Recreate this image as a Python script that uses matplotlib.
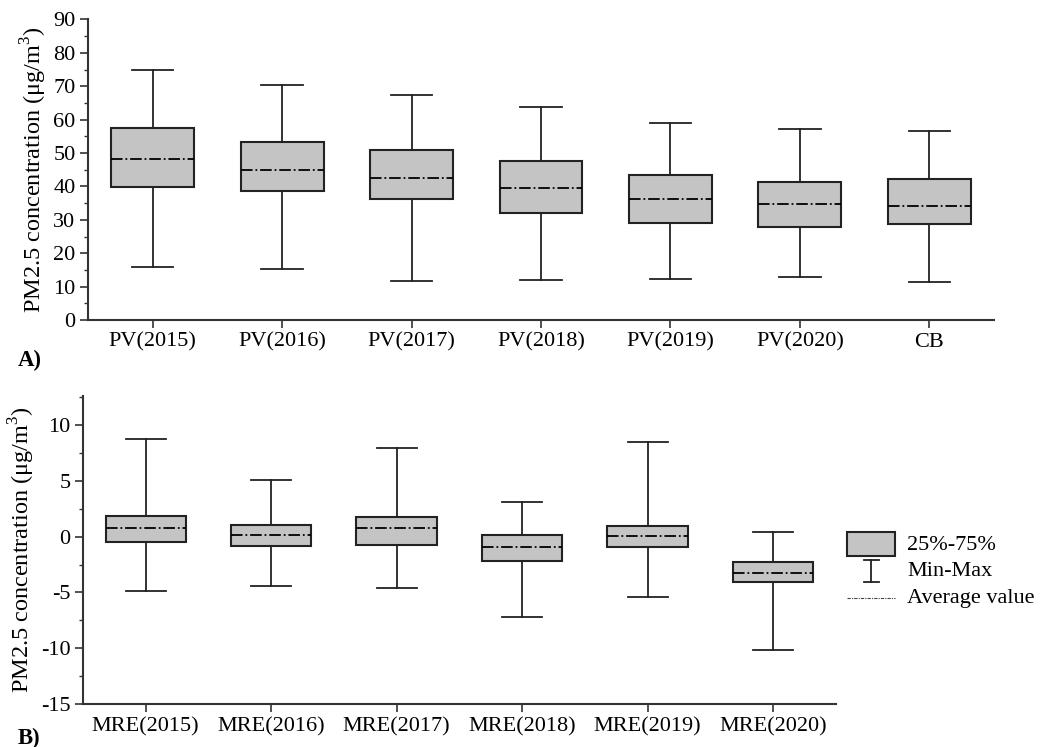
import matplotlib
matplotlib.use("Agg")
import matplotlib.pyplot as plt
from matplotlib.patches import Rectangle
from matplotlib.lines import Line2D
from matplotlib.ticker import MultipleLocator

plt.rcParams['font.family'] = ['Liberation Serif', 'DejaVu Serif']
plt.rcParams['mathtext.fontset'] = 'custom'
plt.rcParams['mathtext.rm'] = 'Liberation Serif'
plt.rcParams['axes.unicode_minus'] = False

# panel A: predicted values + CB
cats_a = ['PV(2015)', 'PV(2016)', 'PV(2017)', 'PV(2018)', 'PV(2019)', 'PV(2020)', 'CB']
min_a = [16.0, 15.2, 11.6, 11.9, 12.4, 12.8, 11.3]
q1_a = [39.9, 38.7, 36.1, 32.1, 29.0, 27.8, 28.8]
mean_a = [48.1, 44.9, 42.6, 39.4, 36.3, 34.8, 34.0]
q3_a = [57.5, 53.2, 51.0, 47.5, 43.3, 41.2, 42.1]
max_a = [75.0, 70.4, 67.4, 63.9, 59.1, 57.2, 56.5]

# panel B: MRE
cats_b = ['MRE(2015)', 'MRE(2016)', 'MRE(2017)', 'MRE(2018)', 'MRE(2019)', 'MRE(2020)']
min_b = [-4.9, -4.44, -4.59, -7.16, -5.39, -10.13]
q1_b = [-0.45, -0.8, -0.77, -2.15, -0.92, -4.05]
mean_b = [0.8, 0.18, 0.8, -0.92, 0.09, -3.22]
q3_b = [1.85, 1.07, 1.76, 0.18, 0.98, -2.29]
max_b = [8.7, 5.07, 7.96, 3.13, 8.5, 0.39]

BOX = '#c4c4c4'
SPINE = '#333333'


def draw_panel(ax, cats, mn, q1, mean, q3, mx):
    stats = []
    for i in range(len(cats)):
        stats.append({'label': cats[i], 'whislo': mn[i], 'q1': q1[i], 'med': mean[i],
                      'q3': q3[i], 'whishi': mx[i]})
    ax.bxp(stats, positions=range(len(cats)), widths=0.64, showfliers=False,
           patch_artist=True,
           boxprops=dict(facecolor=BOX, edgecolor='#222222', linewidth=1.5),
           whiskerprops=dict(color='#222222', linewidth=1.3),
           capprops=dict(color='#222222', linewidth=1.3),
           medianprops=dict(color='black', linewidth=1.3, linestyle='-.'),
           capwidths=0.32)
    ax.set_xlim(-0.5, len(cats) - 0.5)
    for s in ['top', 'right']:
        ax.spines[s].set_visible(False)
    for s in ['left', 'bottom']:
        ax.spines[s].set_color(SPINE)
        ax.spines[s].set_linewidth(1.5)
    ax.tick_params(axis='both', which='major', labelsize=16, length=6, width=1.2,
                   color=SPINE, pad=3)
    ax.tick_params(axis='y', which='minor', length=3, width=1.0, color=SPINE)
    ax.set_ylabel('PM2.5 concentration (μg/m$^3$)', fontsize=17.5, labelpad=3)


fig = plt.figure(figsize=(10.5, 7.47), dpi=100)

ax1 = fig.add_axes([0.0838, 0.5716, 0.8629, 0.4024])
draw_panel(ax1, cats_a, min_a, q1_a, mean_a, q3_a, max_a)
ax1.set_ylim(0, 90)
ax1.yaxis.set_major_locator(MultipleLocator(10))
ax1.yaxis.set_minor_locator(MultipleLocator(5))

ax2 = fig.add_axes([0.079, 0.0572, 0.717, 0.4131])
draw_panel(ax2, cats_b, min_b, q1_b, mean_b, q3_b, max_b)
ax2.set_ylim(-15, 12.6)
ax2.yaxis.set_major_locator(MultipleLocator(5))
ax2.yaxis.set_minor_locator(MultipleLocator(2.5))

fig.text(0.017, 1 - 360 / 747, 'A)', fontsize=16.5, fontweight='bold', va='center')
fig.text(0.017, 1 - 738 / 747, 'B)', fontsize=16.5, fontweight='bold', va='center')

# legend drawn by hand in pixel coords
W, H = 1050, 747
def fx(x):
    return x / W
def fy(y):
    return 1 - y / H

fig.add_artist(Rectangle((fx(847), fy(556)), fx(895) - fx(847), fy(532) - fy(556),
                         facecolor=BOX, edgecolor='#222222', linewidth=1.5))
fig.add_artist(Line2D([fx(871), fx(871)], [fy(560), fy(582)], color='#222222', lw=1.3))
fig.add_artist(Line2D([fx(864), fx(879)], [fy(560), fy(560)], color='#222222', lw=1.3))
fig.add_artist(Line2D([fx(864), fx(879)], [fy(582), fy(582)], color='#222222', lw=1.3))
fig.add_artist(Line2D([fx(847), fx(895)], [fy(598), fy(598)], color='#444444', lw=0.8,
                      linestyle=(0, (3, 1, 1, 1))))
fig.text(fx(907), fy(545), '25%-75%', fontsize=16, va='center')
fig.text(fx(907), fy(572), 'Min-Max', fontsize=16, va='center')
fig.text(fx(907), fy(599), 'Average value', fontsize=16, va='center')

fig.savefig('out.png', dpi=100)
